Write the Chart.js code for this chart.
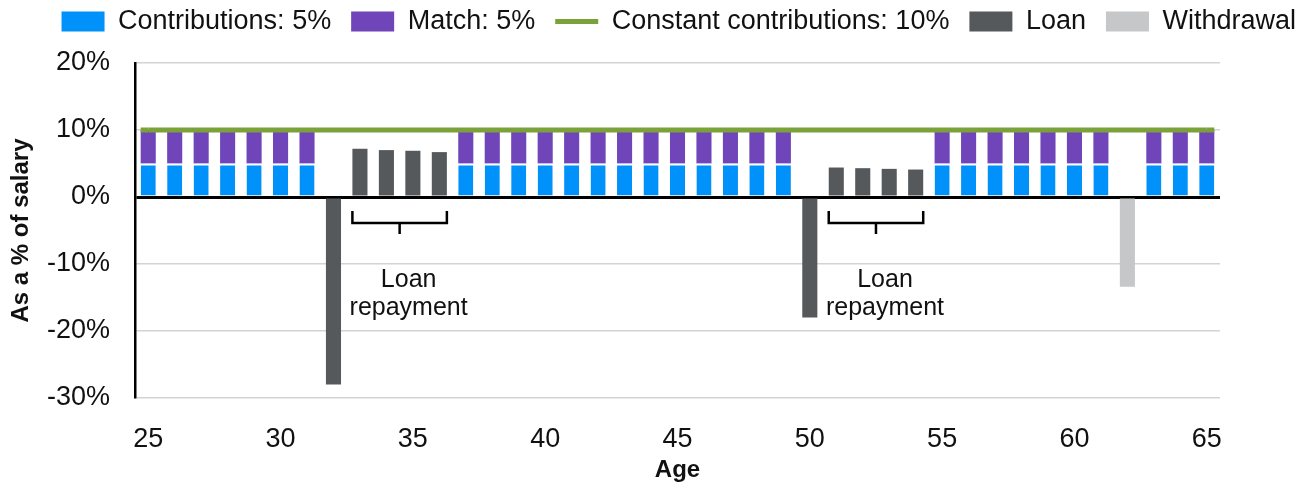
<!DOCTYPE html>
<html>
<head>
<meta charset="utf-8">
<script src="https://cdn.jsdelivr.net/npm/chart.js@4.4.1/dist/chart.umd.min.js"></script>
<style>
  body { margin: 0; background: #fff; }
  #wrap { width: 1299px; height: 485px; position: relative; }
</style>
</head>
<body>
<div id="wrap"><canvas id="myChart"></canvas></div>
<script>
  // ages 25..65
  const ages = []
  for (let a = 25; a <= 65; a++) ages.push(String(a))

  const contributions = [5,5,5,5,5,5,5, null,null,null,null,null, 5,5,5,5,5,5,5,5,5,5,5,5,5, null,null,null,null,null, 5,5,5,5,5,5,5, null, 5,5,5]
  const match         = [5,5,5,5,5,5,5, null,null,null,null,null, 5,5,5,5,5,5,5,5,5,5,5,5,5, null,null,null,null,null, 5,5,5,5,5,5,5, null, 5,5,5]
  const constant      = [10,10,10,10,10,10,10,10,10,10,10,10,10,10,10,10,10,10,10,10,10,10,10,10,10,10,10,10,10,10,10,10,10,10,10,10,10,10,10,10,10]
  const loan          = [null,null,null,null,null,null,null, -28, 7.2, 7.0, 6.9, 6.7, null,null,null,null,null,null,null,null,null,null,null,null,null, -18, 4.4, 4.3, 4.2, 4.1, null,null,null,null,null,null,null, null, null,null,null]
  const withdrawal    = [null,null,null,null,null,null,null, null,null,null,null,null, null,null,null,null,null,null,null,null,null,null,null,null,null, null,null,null,null,null, null,null,null,null,null,null,null, -13.4, null,null,null]

  const yTicks = [-30, -20, -10, 0, 10, 20]
  const repaymentGroups = [['33', '36'], ['51', '54']]

  const textColor = '#111'
  const fontFamily = '"Liberation Sans", Arial, sans-serif'

  const annotations = {
    id: 'annotations',
    afterDatasetsDraw(chart) {
      const { ctx, scales: { x, y } } = chart
      const lineMeta = chart.getDatasetMeta(2)
      const barMeta = chart.getDatasetMeta(0)
      const half = barMeta.data[0].width / 2

      // stretch the 10% line out to the outer bar edges
      ctx.save()
      ctx.strokeStyle = '#7BA23A'
      ctx.lineWidth = 5
      const first = lineMeta.data[0], last = lineMeta.data[lineMeta.data.length - 1]
      ctx.beginPath()
      ctx.moveTo(first.x - half, first.y); ctx.lineTo(first.x, first.y)
      ctx.moveTo(last.x, last.y); ctx.lineTo(last.x + half, last.y)
      ctx.stroke()

      const y0 = y.getPixelForValue(0)
      repaymentGroups.forEach(([from, to]) => {
        const x1 = x.getPixelForValue(ages.indexOf(from)) - half
        const x2 = x.getPixelForValue(ages.indexOf(to)) + half
        const mid = (x1 + x2) / 2
        ctx.strokeStyle = '#000'
        ctx.lineWidth = 2.5
        ctx.beginPath()
        ctx.moveTo(x1, y0 + 14); ctx.lineTo(x1, y0 + 26); ctx.lineTo(x2, y0 + 26); ctx.lineTo(x2, y0 + 14)
        ctx.moveTo(mid, y0 + 26); ctx.lineTo(mid, y0 + 37)
        ctx.stroke()
        ctx.fillStyle = textColor
        ctx.font = '25px ' + fontFamily
        ctx.textAlign = 'center'
        ctx.textBaseline = 'middle'
        ctx.fillText('Loan', mid + 9, y0 + 83)
        ctx.fillText('repayment', mid + 9, y0 + 111)
      })
      ctx.restore()
    }
  }

  // fixed legend block height so the plot starts where it should
  const legendHeight = {
    id: 'legendHeight',
    beforeInit(chart) {
      const fit = chart.legend.fit
      chart.legend.fit = function () {
        fit.bind(chart.legend)()
        this.height = 75
      }
    }
  }

  const ctx = document.getElementById('myChart')

  new Chart(ctx, {
    type: 'bar',
    data: {
      labels: ages,
      datasets: [
        { label: 'Contributions: 5%', data: contributions, backgroundColor: '#0091FA', borderColor: '#fff', borderWidth: { top: 2, left: 0, right: 0, bottom: 0 }, stack: 's' },
        { label: 'Match: 5%', data: match, backgroundColor: '#6F45B9', stack: 's' },
        { label: 'Constant contributions: 10%', type: 'line', data: constant, borderColor: '#7BA23A', backgroundColor: '#7BA23A', borderWidth: 5, pointRadius: 0, order: -1 },
        { label: 'Loan', data: loan, backgroundColor: '#55595C', stack: 's' },
        { label: 'Withdrawal', data: withdrawal, backgroundColor: '#C6C7C9', stack: 's' }
      ]
    },
    options: {
      responsive: true,
      maintainAspectRatio: false,
      animation: false,
      categoryPercentage: 1,
      barPercentage: 0.57,
      layout: { padding: { left: 3, top: -12, bottom: 0, right: -17 } },
      plugins: {
        tooltip: { enabled: false },
        legend: {
          position: 'top',
          align: 'end',
          labels: {
            usePointStyle: true,
            pointStyleWidth: 43,
            boxHeight: 20,
            padding: 20,
            color: textColor,
            font: { family: fontFamily, size: 27 },
            sort: (a, b) => a.datasetIndex - b.datasetIndex,
            generateLabels(chart) {
              return chart.data.datasets.map((ds, i) => ({
                text: ds.label,
                datasetIndex: i,
                fillStyle: ds.backgroundColor,
                strokeStyle: ds.type === 'line' ? ds.borderColor : ds.backgroundColor,
                lineWidth: ds.type === 'line' ? 5 : 0,
                pointStyle: ds.type === 'line' ? 'line' : 'rect',
                fontColor: textColor,
                hidden: false
              }))
            }
          }
        }
      },
      scales: {
        x: {
          stacked: true,
          grid: { display: false },
          border: { display: false },
          afterFit: s => { s.height = 87 },
          ticks: {
            autoSkip: false,
            maxRotation: 0,
            padding: 17,
            color: textColor,
            font: { family: fontFamily, size: 27 },
            callback: function (v) { const a = this.getLabelForValue(v); return Number(a) % 5 === 0 ? a : '' }
          },
          title: { display: true, text: 'Age', color: textColor, font: { family: fontFamily, size: 24, weight: 'bold' }, padding: { top: 3, bottom: 0 } }
        },
        y: {
          stacked: true,
          min: -30,
          max: 20,
          afterBuildTicks: s => { s.ticks = yTicks.map(v => ({ value: v })) },
          afterFit: s => { s.width = 132 },
          grid: {
            drawTicks: false,
            color: c => c.tick && c.tick.value === 0 ? '#000' : '#d3d3d3',
            lineWidth: c => c.tick && c.tick.value === 0 ? 3 : 1.5
          },
          border: { display: true, color: '#000', width: 2.5 },
          ticks: {
            padding: 25,
            color: textColor,
            font: { family: fontFamily, size: 27 },
            callback: v => v + '%'
          },
          title: { display: true, text: 'As a % of salary', color: textColor, font: { family: fontFamily, size: 24, weight: 'bold' }, padding: { top: 4, bottom: 8 } }
        },
        y2: {
          position: 'right',
          display: true,
          grid: { display: false },
          border: { display: false },
          ticks: { display: false },
          afterFit: s => { s.width = 96 }
        }
      }
    },
    plugins: [annotations, legendHeight]
  });
</script>
</body>
</html>
